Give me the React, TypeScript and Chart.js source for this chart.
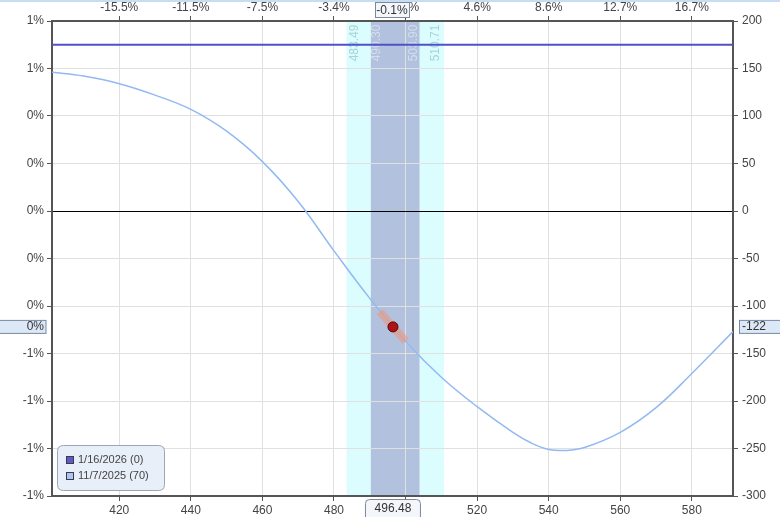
import React, { useEffect, useRef } from "react";
import { Chart, registerables } from "chart.js";
Chart.register(...registerables);

// ---- data ----
const xMin = 401.2;
const xMax = 591.5;
const xTicks = [420, 440, 460, 480, 500, 520, 540, 560, 580];
const topTickLabels = ["-15.5%", "-11.5%", "-7.5%", "-3.4%", "0.6%", "4.6%", "8.6%", "12.7%", "16.7%"];
const yTicks = [-300, -250, -200, -150, -100, -50, 0, 50, 100, 150, 200];
const leftTickLabels = ["-1%", "-1%", "-1%", "-1%", "0%", "0%", "0%", "0%", "0%", "1%", "1%"];

const t70Prices = [401.2, 410, 420, 430, 440, 450, 460, 470, 480, 490, 500, 510, 520, 530, 535, 540, 545, 550, 560, 570, 580, 591.5];
const t70Pnl = [146, 142, 134, 122, 107, 84, 52, 10, -42, -92, -137, -175, -206, -233, -244, -251, -252, -249, -233, -207, -171, -127];

const expPrices = [401.2, 591.5];
const expPnl = [175, 175];

const outerBand = [483.49, 510.71];
const innerBand = [490.3, 503.9];

const spotPrice = 496.48;
const spotPnl = -122;
const spotPctLabel = "-0.1%";
const spotLeftLabel = "0%";
const tangentPrices = [492.8, 500.0];
const tangentPnl = [-106, -137];

const legendLabels = ["1/16/2026 (0)", "11/7/2025 (70)"];

const FONT = "Arial, 'Liberation Sans', sans-serif";

function roundRect(ctx: CanvasRenderingContext2D, x: number, y: number, w: number, h: number, r: number) {
  ctx.beginPath();
  ctx.moveTo(x + r, y);
  ctx.lineTo(x + w - r, y);
  ctx.quadraticCurveTo(x + w, y, x + w, y + r);
  ctx.lineTo(x + w, y + h - r);
  ctx.quadraticCurveTo(x + w, y + h, x + w - r, y + h);
  ctx.lineTo(x + r, y + h);
  ctx.quadraticCurveTo(x, y + h, x, y + h - r);
  ctx.lineTo(x, y + r);
  ctx.quadraticCurveTo(x, y, x + r, y);
  ctx.closePath();
}

const bandsPlugin = {
  id: "bands",
  beforeDraw(chart: any) {
    const { ctx, chartArea, scales } = chart;
    const x = scales.x;
    const top = chartArea.top;
    const h = chartArea.bottom - chartArea.top;
    ctx.save();
    const o0 = x.getPixelForValue(outerBand[0]);
    const o1 = x.getPixelForValue(outerBand[1]);
    const i0 = x.getPixelForValue(innerBand[0]);
    const i1 = x.getPixelForValue(innerBand[1]);
    ctx.fillStyle = "#dcfdfd";
    ctx.fillRect(o0, top, o1 - o0, h);
    ctx.fillStyle = "#b2c1de";
    ctx.fillRect(i0, top, i1 - i0, h);

    const drawV = (txt: string, px: number, color: string) => {
      ctx.save();
      ctx.translate(px, 43);
      ctx.rotate(-Math.PI / 2);
      ctx.font = `12px ${FONT}`;
      ctx.fillStyle = color;
      ctx.textAlign = "center";
      ctx.textBaseline = "middle";
      ctx.fillText(txt, 0, 0);
      ctx.restore();
    };
    drawV(outerBand[0].toFixed(2), o0 + 8, "#a7d3d8");
    drawV(innerBand[0].toFixed(2), i0 + 6, "#d6deec");
    drawV(innerBand[1].toFixed(2), i1 - 6, "#d6deec");
    drawV(outerBand[1].toFixed(2), o1 - 8, "#a7d3d8");
    ctx.restore();
  },
  afterDraw(chart: any) {
    const { ctx, chartArea, scales } = chart;
    const x = scales.x;
    const y = scales.y;
    ctx.save();
    ctx.fillStyle = "#c9dcf3";
    ctx.fillRect(0, 0, chart.width, 2);

    const sx = x.getPixelForValue(spotPrice);
    const sy = y.getPixelForValue(spotPnl);
    ctx.font = `12px ${FONT}`;
    ctx.textBaseline = "middle";

    ctx.fillStyle = "#f3f6fb";
    ctx.strokeStyle = "#7d8898";
    ctx.lineWidth = 1;
    ctx.fillRect(375.5, 2.5, 34, 15);
    ctx.strokeRect(375.5, 2.5, 34, 15);
    ctx.fillStyle = "#333";
    ctx.textAlign = "center";
    ctx.fillText(spotPctLabel, sx - 1, 10.5);

    roundRect(ctx, sx - 27.5, chartArea.bottom + 3.5, 55, 22, 4);
    ctx.fillStyle = "#f3f6fb";
    ctx.fill();
    ctx.strokeStyle = "#7d8898";
    ctx.stroke();
    ctx.fillStyle = "#333";
    ctx.fillText(spotPrice.toFixed(2), sx, chartArea.bottom + 12.5);

    ctx.fillStyle = "#dde8f6";
    ctx.fillRect(-1, sy - 6.5, 47, 13);
    ctx.strokeStyle = "#7889a6";
    ctx.strokeRect(-1, sy - 6.5, 47, 13);
    ctx.fillStyle = "#333";
    ctx.textAlign = "right";
    ctx.fillText(spotLeftLabel, 44, sy);

    ctx.fillStyle = "#dde8f6";
    ctx.fillRect(739.5, sy - 6.5, 45, 13);
    ctx.strokeStyle = "#7889a6";
    ctx.strokeRect(739.5, sy - 6.5, 45, 13);
    ctx.fillStyle = "#333";
    ctx.textAlign = "left";
    ctx.fillText(String(spotPnl), 742, sy);

    const lx = 57.5, ly = 445.5, lw = 107, lh = 45;
    roundRect(ctx, lx, ly, lw, lh, 6);
    ctx.fillStyle = "#e9eff8";
    ctx.fill();
    ctx.strokeStyle = "#9aa6ba";
    ctx.stroke();
    const ds = chart.data.datasets;
    const items = [
      { label: ds[3].label, color: "#5c5cc8" },
      { label: ds[2].label, color: "#a9c6f5" },
    ];
    ctx.font = `11px ${FONT}`;
    items.forEach((it, i) => {
      const yy = 460 + i * 16;
      ctx.fillStyle = it.color;
      ctx.fillRect(66.5, yy - 3.5, 7, 7);
      ctx.strokeStyle = "#3a3a4a";
      ctx.strokeRect(66.5, yy - 3.5, 7, 7);
      ctx.fillStyle = "#444";
      ctx.textAlign = "left";
      ctx.fillText(it.label, 78, yy);
    });
    ctx.restore();
  },
};

export default function App() {
  const ref = useRef<HTMLCanvasElement | null>(null);
  useEffect(() => {
    document.body.style.margin = "0";
    const canvas = ref.current!;
    const tickFont = { family: FONT, size: 12 };
    const setX = (s: any) => {
      s.ticks = xTicks.map((v) => ({ value: v }));
    };
    const setY = (s: any) => {
      s.ticks = yTicks.map((v) => ({ value: v }));
    };
    const chart = new Chart(canvas, {
      type: "line",
      data: {
        datasets: [
          {
            label: "spot",
            data: [{ x: spotPrice, y: spotPnl }],
            showLine: false,
            pointRadius: 5,
            pointBackgroundColor: "#b01212",
            pointBorderColor: "#4a0a0a",
            pointBorderWidth: 1,
            xAxisID: "x",
            yAxisID: "y",
          },
          {
            label: "tangent",
            data: tangentPrices.map((p, i) => ({ x: p, y: tangentPnl[i] })),
            borderColor: "rgba(240,150,120,0.6)",
            borderWidth: 8,
            borderCapStyle: "butt",
            pointRadius: 0,
            xAxisID: "x",
            yAxisID: "y",
          },
          {
            label: legendLabels[1],
            data: t70Prices.map((p, i) => ({ x: p, y: t70Pnl[i] })),
            borderColor: "#93b9f2",
            borderWidth: 1.5,
            pointRadius: 0,
            tension: 0.4,
            xAxisID: "x",
            yAxisID: "y",
          },
          {
            label: legendLabels[0],
            data: expPrices.map((p, i) => ({ x: p, y: expPnl[i] })),
            borderColor: "#5050c8",
            borderWidth: 2,
            pointRadius: 0,
            xAxisID: "x",
            yAxisID: "y",
          },
        ],
      },
      options: {
        animation: false,
        responsive: false,
        devicePixelRatio: 1,
        layout: { padding: 0 },
        plugins: { legend: { display: false }, tooltip: { enabled: false } },
        scales: {
          x: {
            type: "linear",
            position: "bottom",
            min: xMin,
            max: xMax,
            afterBuildTicks: setX,
            afterFit: (s: any) => { s.height = 21; },
            ticks: { font: tickFont, color: "#444", padding: 2, maxRotation: 0, autoSkip: false, callback: (v: any) => String(v) },
            grid: { color: "#e0e0e0", tickLength: 5, tickColor: "#555" },
            border: { display: true, color: "#555", width: 2 },
          },
          xTop: {
            type: "linear",
            position: "top",
            min: xMin,
            max: xMax,
            afterBuildTicks: setX,
            afterFit: (s: any) => { s.height = 21; },
            ticks: { font: tickFont, color: "#444", padding: 1, maxRotation: 0, autoSkip: false, callback: (_v: any, i: number) => topTickLabels[i] },
            grid: { drawOnChartArea: false, tickLength: 5, tickColor: "#555" },
            border: { display: true, color: "#555", width: 2 },
          },
          y: {
            type: "linear",
            position: "right",
            min: -300,
            max: 200,
            afterBuildTicks: setY,
            afterFit: (s: any) => { s.width = 47; },
            ticks: { font: tickFont, color: "#444", padding: 4, autoSkip: false, callback: (v: any) => String(v) },
            grid: {
              color: (c: any) => (c.tick && c.tick.value === 0 ? "#000" : "#e0e0e0"),
              tickLength: 5,
              tickColor: "#555",
            },
            border: { display: true, color: "#555", width: 2 },
          },
          yL: {
            type: "linear",
            position: "left",
            min: -300,
            max: 200,
            afterBuildTicks: setY,
            afterFit: (s: any) => { s.width = 52; },
            ticks: { font: tickFont, color: "#444", padding: 3, autoSkip: false, callback: (_v: any, i: number) => leftTickLabels[i] },
            grid: { drawOnChartArea: false, tickLength: 5, tickColor: "#555" },
            border: { display: true, color: "#555", width: 2 },
          },
        },
      } as any,
      plugins: [bandsPlugin],
    });
    return () => chart.destroy();
  }, []);
  return (
    <div style={{ width: 780, height: 517 }}>
      <canvas ref={ref} width={780} height={517} style={{ display: "block" }} />
    </div>
  );
}
